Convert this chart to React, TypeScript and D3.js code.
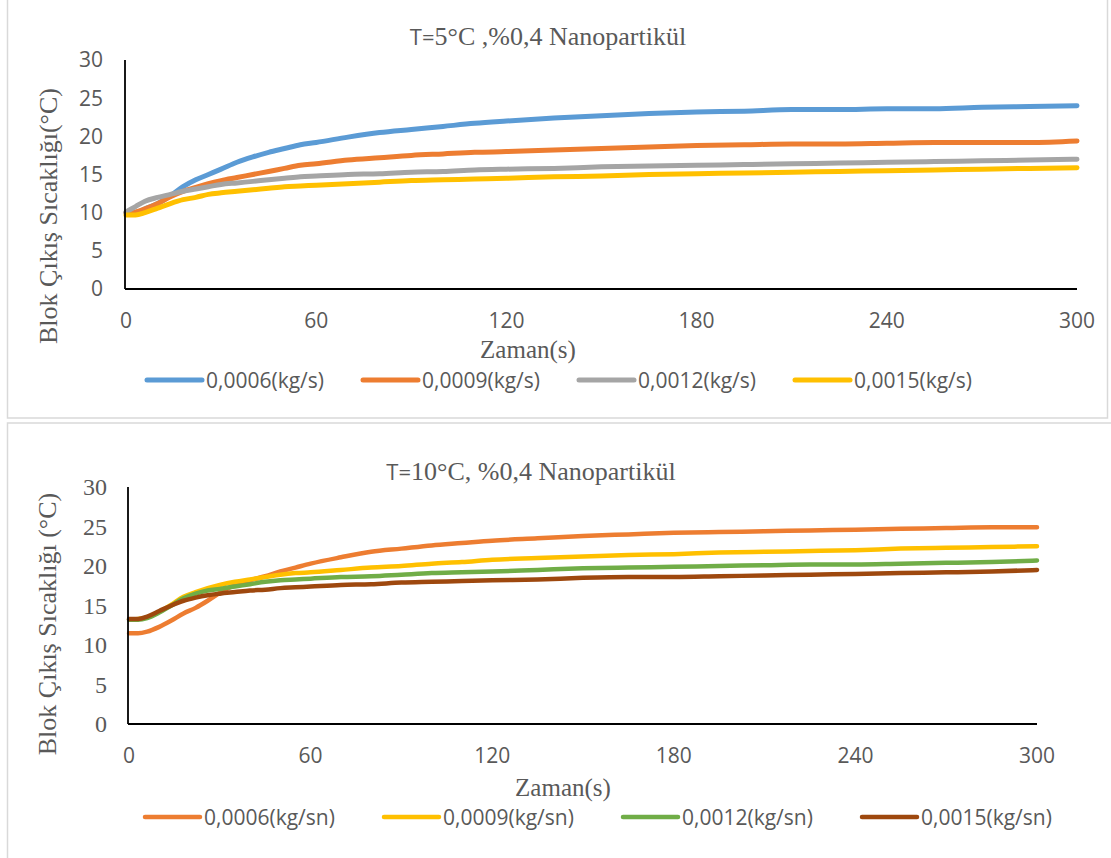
import React from "react";
import * as d3 from "d3";

// ---------- DATA ----------
const times = [0, 3, 6, 10, 14, 18, 22, 26, 30, 35, 40, 45, 50, 55, 60, 70, 80, 90, 100, 110, 120, 135, 150, 165, 180, 195, 210, 225, 240, 255, 270, 285, 300];

const xTicks = [0, 60, 120, 180, 240, 300];
const yTicks = [0, 5, 10, 15, 20, 25, 30];

// Top chart: T=5°C
const topNames = ["0,0006(kg/s)", "0,0009(kg/s)", "0,0012(kg/s)", "0,0015(kg/s)"];
const top0006 = [10.0, 10.0, 10.5, 11.2, 12.2, 13.4, 14.3, 15.0, 15.7, 16.6, 17.3, 17.9, 18.4, 18.9, 19.2, 19.9, 20.5, 20.9, 21.3, 21.7, 22.0, 22.4, 22.7, 23.0, 23.2, 23.3, 23.5, 23.5, 23.6, 23.6, 23.8, 23.9, 24.0];
const top0009 = [10.0, 10.1, 10.5, 11.2, 12.1, 12.8, 13.3, 13.8, 14.2, 14.6, 15.0, 15.4, 15.8, 16.2, 16.4, 16.9, 17.2, 17.5, 17.7, 17.9, 18.0, 18.2, 18.4, 18.6, 18.8, 18.9, 19.0, 19.0, 19.1, 19.2, 19.2, 19.2, 19.4];
const top0012 = [10.1, 10.8, 11.5, 12.0, 12.4, 12.8, 13.1, 13.4, 13.7, 13.9, 14.1, 14.3, 14.5, 14.7, 14.8, 15.0, 15.1, 15.3, 15.4, 15.6, 15.7, 15.8, 16.0, 16.1, 16.2, 16.3, 16.4, 16.5, 16.6, 16.7, 16.8, 16.9, 17.0];
const top0015 = [9.7, 9.7, 10.0, 10.6, 11.2, 11.7, 12.0, 12.4, 12.6, 12.8, 13.0, 13.2, 13.4, 13.5, 13.6, 13.8, 14.0, 14.2, 14.3, 14.4, 14.5, 14.7, 14.8, 15.0, 15.1, 15.2, 15.3, 15.4, 15.5, 15.6, 15.7, 15.8, 15.9];

// Bottom chart: T=10°C
const botNames = ["0,0006(kg/sn)", "0,0009(kg/sn)", "0,0012(kg/sn)", "0,0015(kg/sn)"];
const bot0006 = [11.5, 11.5, 11.7, 12.3, 13.1, 14.0, 14.7, 15.6, 16.6, 17.6, 18.2, 18.7, 19.3, 19.8, 20.3, 21.1, 21.8, 22.2, 22.6, 22.9, 23.2, 23.5, 23.8, 24.0, 24.2, 24.3, 24.4, 24.5, 24.6, 24.7, 24.8, 24.9, 24.9];
const bot0009 = [13.2, 13.3, 13.5, 14.2, 15.1, 16.1, 16.7, 17.2, 17.6, 18.0, 18.3, 18.6, 18.9, 19.1, 19.2, 19.5, 19.8, 20.0, 20.3, 20.5, 20.8, 21.0, 21.2, 21.4, 21.5, 21.7, 21.8, 21.9, 22.0, 22.2, 22.3, 22.4, 22.5];
const bot0012 = [13.2, 13.2, 13.4, 14.1, 15.0, 15.9, 16.5, 16.9, 17.1, 17.4, 17.7, 18.0, 18.2, 18.3, 18.4, 18.6, 18.7, 18.9, 19.1, 19.2, 19.3, 19.5, 19.7, 19.8, 19.9, 20.0, 20.1, 20.2, 20.2, 20.3, 20.4, 20.5, 20.7];
const bot0015 = [13.3, 13.3, 13.6, 14.3, 15.0, 15.6, 16.0, 16.3, 16.5, 16.7, 16.9, 17.0, 17.2, 17.3, 17.4, 17.6, 17.7, 17.9, 18.0, 18.1, 18.2, 18.3, 18.5, 18.6, 18.6, 18.7, 18.8, 18.9, 19.0, 19.1, 19.2, 19.3, 19.5];

const topColors = ["#5B9BD5", "#ED7D31", "#A5A5A5", "#FFC000"];
const botColors = ["#ED7D31", "#FFC000", "#70AD47", "#9E480E"];

const SERIF = "'Liberation Serif', 'Times New Roman', serif";
const SANS = "'Open Sans', 'Noto Sans', sans-serif";
const TXT = "#595959";

type ChartCfg = {
  titleSans: string;
  titleSerif: string;
  titleX: number;
  titleY: number;
  yLabel: string;
  yLabelX: number;
  yLabelY: number;
  x0: number;
  x1: number;
  yTop: number;
  yBot: number;
  yTickSerif: boolean;
  yTickRight: number;
  xTickY: number;
  xTitleX: number;
  xTitleY: number;
  legendY: number;
  legendStarts: number[];
  names: string[];
  series: number[][];
  colors: string[];
  lineW: number;
};

function Chart({ c }: { c: ChartCfg }) {
  const x = d3.scaleLinear().domain([0, 300]).range([c.x0, c.x1]);
  const y = d3.scaleLinear().domain([0, 30]).range([c.yBot, c.yTop]);
  const line = d3
    .line<number>()
    .x((_, i) => x(times[i]))
    .y((d) => y(d))
    .curve(d3.curveMonotoneX);
  return (
    <g>
      <text x={c.titleX} y={c.titleY} textAnchor="middle" fill={TXT} fontSize={26}>
        <tspan fontFamily={SANS} fontSize={22}>{c.titleSans}</tspan>
        <tspan fontFamily={SERIF}>{c.titleSerif}</tspan>
      </text>
      <text
        transform={`translate(${c.yLabelX},${c.yLabelY}) rotate(-90)`}
        textAnchor="middle"
        fontFamily={SERIF}
        fontSize={26}
        fill={TXT}
      >
        {c.yLabel}
      </text>
      {yTicks.map((t) => (
        <text
          key={"y" + t}
          x={c.yTickRight}
          y={y(t)}
          dy="0.35em"
          textAnchor="end"
          fontFamily={c.yTickSerif ? SERIF : SANS}
          fontSize={c.yTickSerif ? 24 : 21}
          fill={TXT}
        >
          {t}
        </text>
      ))}
      {xTicks.map((t) => (
        <text key={"x" + t} x={x(t)} y={c.xTickY} textAnchor="middle" fontFamily={SANS} fontSize={21} fill={TXT}>
          {t}
        </text>
      ))}
      <text x={c.xTitleX} y={c.xTitleY} textAnchor="middle" fontFamily={SERIF} fontSize={25} fill={TXT}>
        Zaman(s)
      </text>
      {c.series.map((s, i) => (
        <path
          key={"s" + i}
          d={line(s) || ""}
          fill="none"
          stroke={c.colors[i]}
          strokeWidth={c.lineW}
          strokeLinecap="round"
          strokeLinejoin="round"
        />
      ))}
      <line x1={c.x0 - 1} x2={c.x0 - 1} y1={c.yTop} y2={c.yBot} stroke="#000" strokeWidth={1.8} />
      <line x1={c.x0 - 1} x2={c.x1} y1={c.yBot} y2={c.yBot} stroke="#000" strokeWidth={1.8} />
      {c.names.map((n, i) => (
        <g key={"l" + i}>
          <line
            x1={c.legendStarts[i]}
            x2={c.legendStarts[i] + 55}
            y1={c.legendY}
            y2={c.legendY}
            stroke={c.colors[i]}
            strokeWidth={c.lineW}
            strokeLinecap="round"
          />
          <text x={c.legendStarts[i] + 59} y={c.legendY} dy="0.36em" fontFamily={SANS} fontSize={21} fill={TXT}>
            {n}
          </text>
        </g>
      ))}
    </g>
  );
}

const topCfg: ChartCfg = {
  titleSans: "T=",
  titleSerif: "5°C ,%0,4 Nanopartikül",
  titleX: 548,
  titleY: 45,
  yLabel: "Blok Çıkış Sıcaklığı(°C)",
  yLabelX: 57,
  yLabelY: 216,
  x0: 126,
  x1: 1077,
  yTop: 60,
  yBot: 289,
  yTickSerif: false,
  yTickRight: 103,
  xTickY: 328,
  xTitleX: 528,
  xTitleY: 358,
  legendY: 380,
  legendStarts: [147, 363, 579, 795],
  names: topNames,
  series: [top0006, top0009, top0012, top0015],
  colors: topColors,
  lineW: 5,
};

const botCfg: ChartCfg = {
  titleSans: "T=",
  titleSerif: "10°C, %0,4 Nanopartikül",
  titleX: 531,
  titleY: 480,
  yLabel: "Blok Çıkış Sıcaklığı (°C)",
  yLabelX: 56,
  yLabelY: 624,
  x0: 129,
  x1: 1037,
  yTop: 487,
  yBot: 724,
  yTickSerif: true,
  yTickRight: 107,
  xTickY: 763,
  xTitleX: 563,
  xTitleY: 796,
  legendY: 817,
  legendStarts: [145, 384, 623, 862],
  names: botNames,
  series: [bot0006, bot0009, bot0012, bot0015],
  colors: botColors,
  lineW: 4.5,
};

export default function App() {
  return (
    <div style={{ position: "fixed", left: 0, top: 0 }}>
      <svg width={1111} height={858} viewBox="0 0 1111 858" style={{ display: "block", background: "#fff" }}>
        <rect x={7.5} y={-5} width={1100} height={423} fill="#fff" stroke="#d9d9d9" strokeWidth={1.5} />
        <rect x={7.5} y={423} width={1115} height={450} fill="#fff" stroke="#d9d9d9" strokeWidth={1.5} />
        <Chart c={topCfg} />
        <Chart c={botCfg} />
      </svg>
    </div>
  );
}
